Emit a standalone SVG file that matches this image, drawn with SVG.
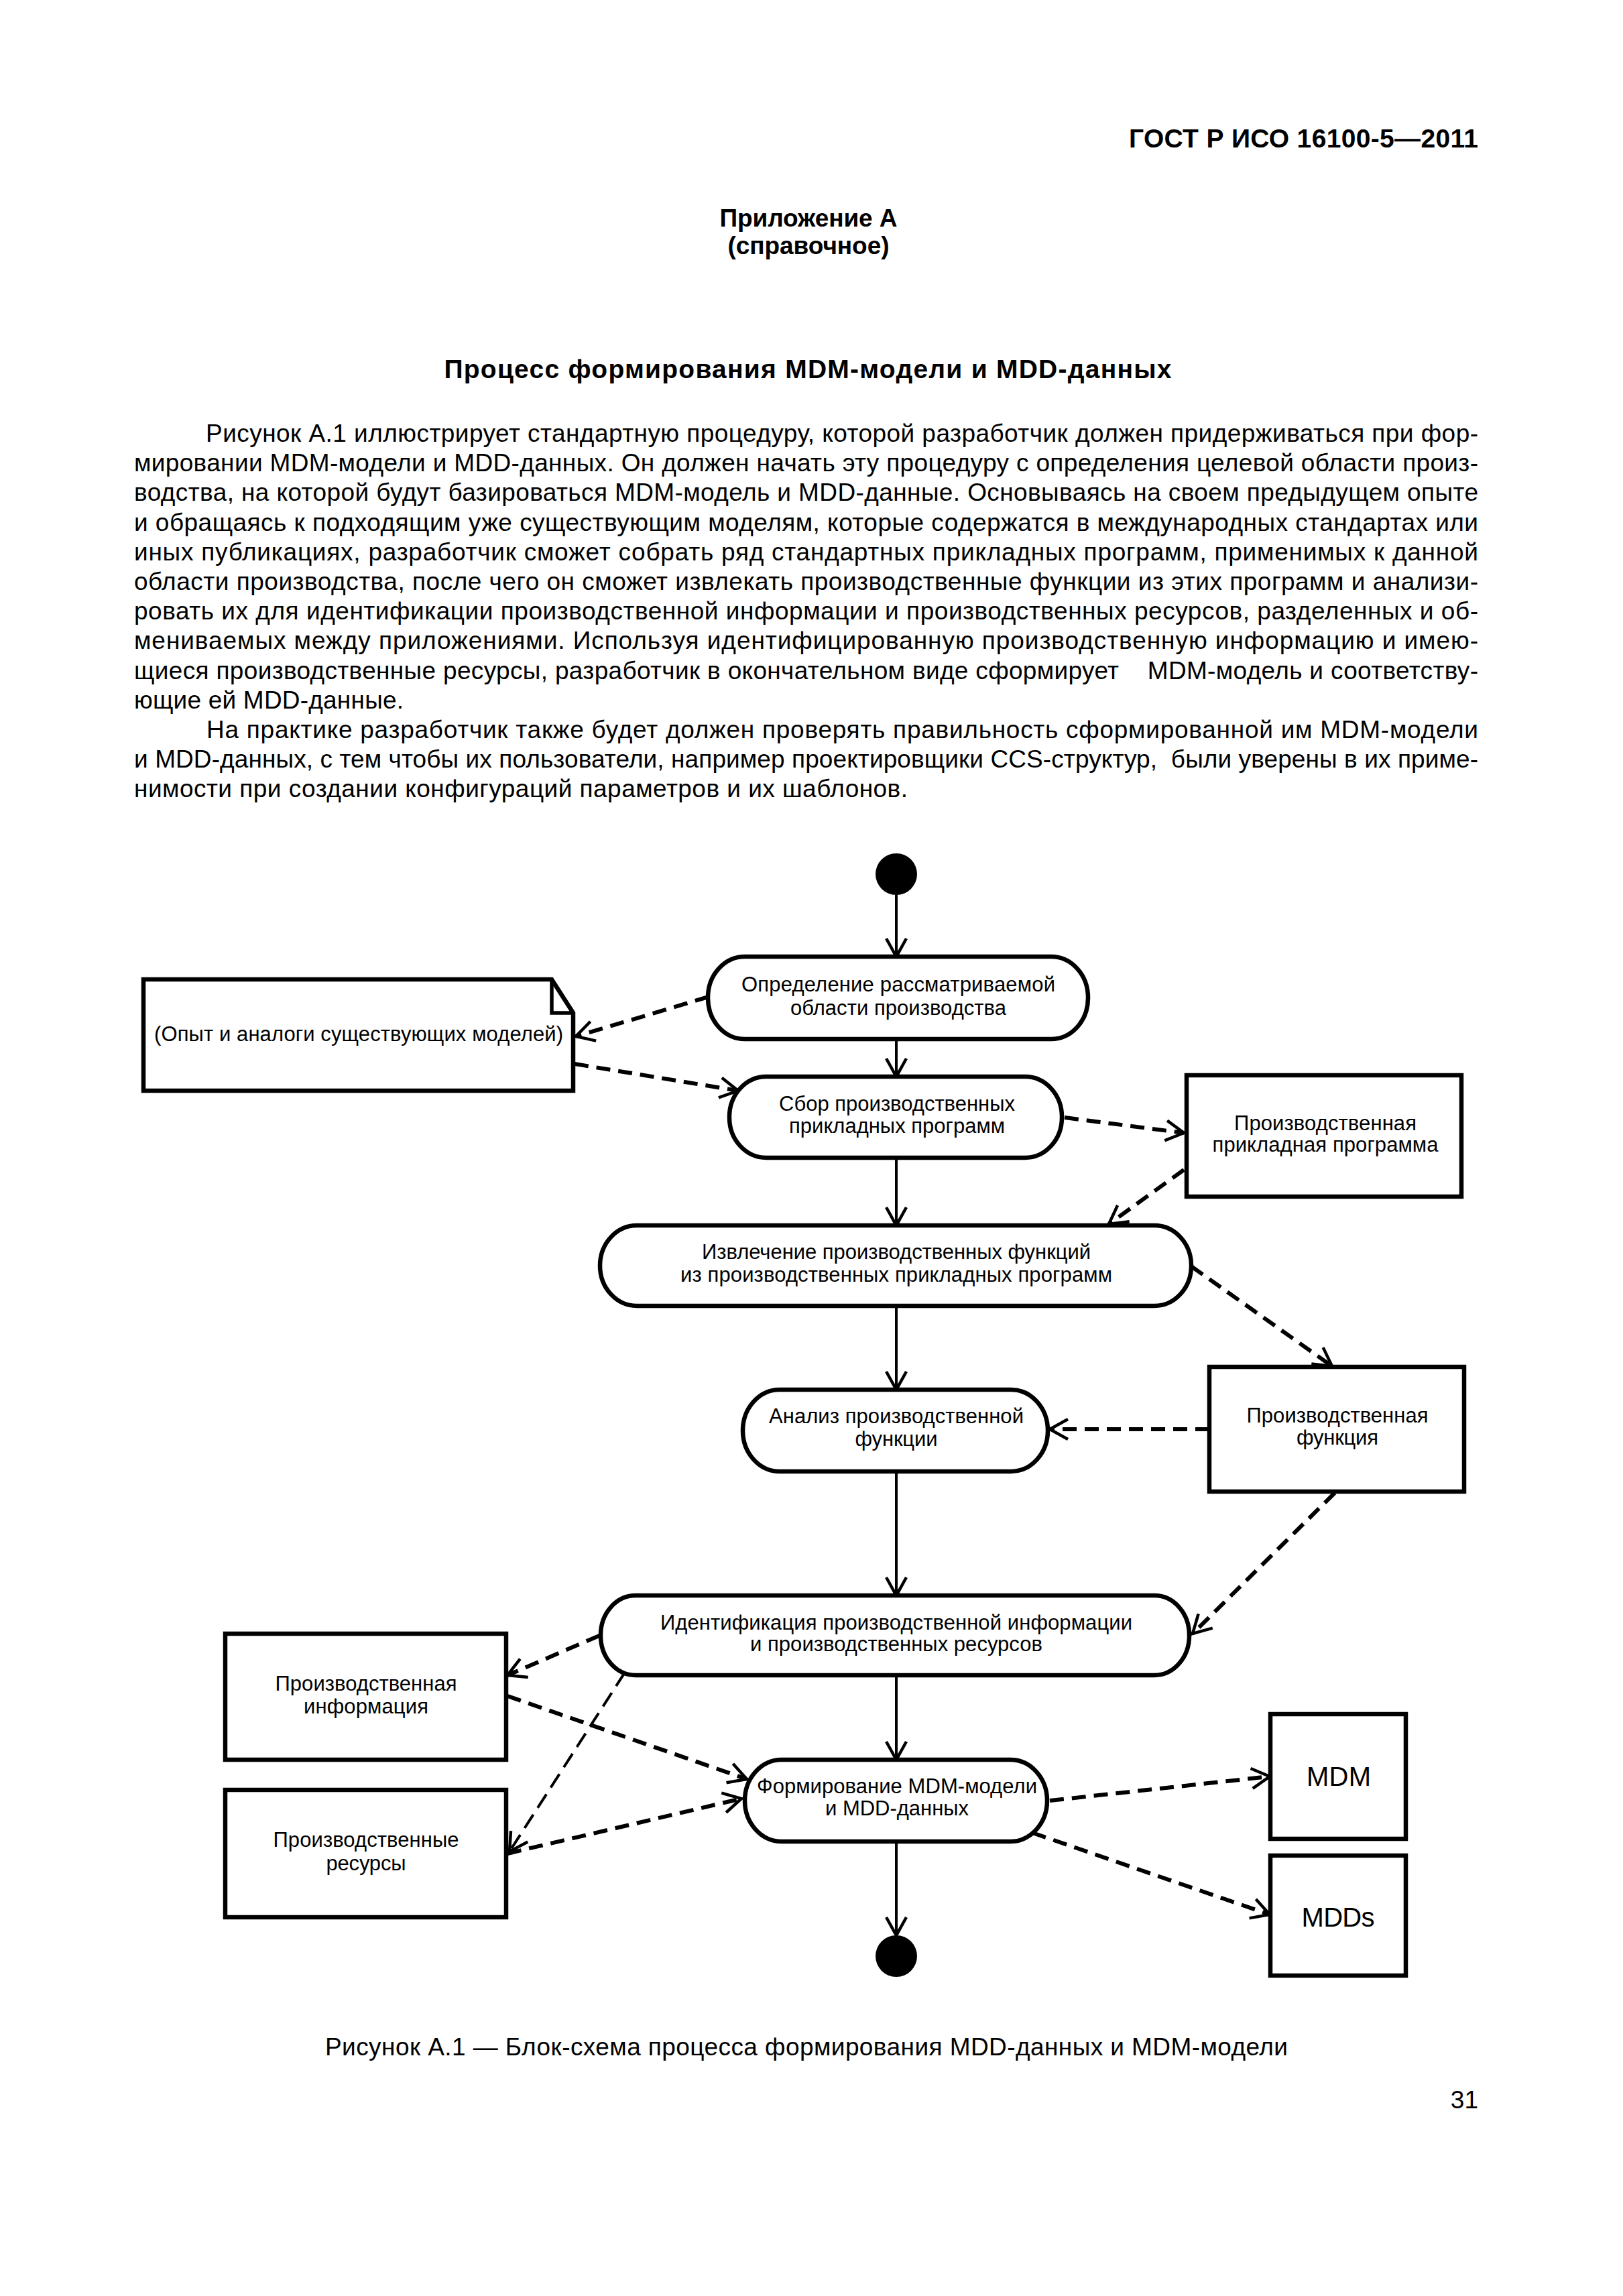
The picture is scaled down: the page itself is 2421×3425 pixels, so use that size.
<svg xmlns="http://www.w3.org/2000/svg" width="2421" height="3425" viewBox="0 0 2421 3425">
<style>
text{font-family:"Liberation Sans",Arial,sans-serif;fill:#000}
.p{font-size:37px}
.b{font-weight:bold}
.n{font-size:31px;text-anchor:middle}
.big{font-size:40px;text-anchor:middle}
.node{fill:#fff;stroke:#000;stroke-width:6.5}
.solid{fill:none;stroke:#000;stroke-width:4}
.dash{fill:none;stroke:#000;stroke-width:6;stroke-dasharray:21 12}
.dthin{fill:none;stroke:#000;stroke-width:4;stroke-dasharray:24 12}
</style>
<defs>
<marker id="arr" markerUnits="userSpaceOnUse" viewBox="-32 -20 36 40" refX="0" refY="0" markerWidth="36" markerHeight="40" orient="auto" overflow="visible">
<path d="M-27,-15 L0,0 L-27,15" fill="none" stroke="#000" stroke-width="4.5" stroke-dasharray="none"/>
</marker>
</defs>
<rect width="2421" height="3425" fill="#fff"/>

<g id="page-text">
<text class="b" x="2205" y="220" font-size="39" text-anchor="end" textLength="521">ГОСТ Р ИСО 16100-5—2011</text>
<text class="b" x="1206" y="338" font-size="37" text-anchor="middle" textLength="265">Приложение А</text>
<text class="b" x="1206" y="379" font-size="37" text-anchor="middle" textLength="241">(справочное)</text>
<text class="b" x="1205" y="564" font-size="39" text-anchor="middle" textLength="1085">Процесс формирования MDM-модели и MDD-данных</text>
<text class="p" x="307" y="659" textLength="1898">Рисунок А.1 иллюстрирует стандартную процедуру, которой разработчик должен придерживаться при фор-</text>
<text class="p" x="200" y="703" textLength="2005">мировании MDM-модели и MDD-данных. Он должен начать эту процедуру с определения целевой области произ-</text>
<text class="p" x="200" y="747" textLength="2005">водства, на которой будут базироваться MDM-модель и MDD-данные. Основываясь на своем предыдущем опыте</text>
<text class="p" x="200" y="792" textLength="2005">и обращаясь к подходящим уже существующим моделям, которые содержатся в международных стандартах или</text>
<text class="p" x="200" y="836" textLength="2005">иных публикациях, разработчик сможет собрать ряд стандартных прикладных программ, применимых к данной</text>
<text class="p" x="200" y="880" textLength="2005">области производства, после чего он сможет извлекать производственные функции из этих программ и анализи-</text>
<text class="p" x="200" y="924" textLength="2005">ровать их для идентификации производственной информации и производственных ресурсов, разделенных и об-</text>
<text class="p" x="200" y="968" textLength="2005">мениваемых между приложениями. Используя идентифицированную производственную информацию и имею-</text>
<text class="p" x="200" y="1013" textLength="2005" xml:space="preserve">щиеся производственные ресурсы, разработчик в окончательном виде сформирует    MDM-модель и соответству-</text>
<text class="p" x="200" y="1057" textLength="402">ющие ей MDD-данные.</text>
<text class="p" x="308" y="1101" textLength="1897">На практике разработчик также будет должен проверять правильность сформированной им MDM-модели</text>
<text class="p" x="200" y="1145" textLength="2005" xml:space="preserve">и MDD-данных, с тем чтобы их пользователи, например проектировщики CCS-структур,  были уверены в их приме-</text>
<text class="p" x="200" y="1189" textLength="1154">нимости при создании конфигураций параметров и их шаблонов.</text>
<text class="p" x="1203" y="3066" text-anchor="middle" textLength="1436">Рисунок А.1 — Блок-схема процесса формирования MDD-данных и MDM-модели</text>
<text class="p" x="2205" y="3145" text-anchor="end">31</text>
</g>

<g id="connectors">
<line class="solid" x1="1337" y1="1335" x2="1337" y2="1427" marker-end="url(#arr)"/>
<line class="solid" x1="1337" y1="1550" x2="1337" y2="1606" marker-end="url(#arr)"/>
<line class="solid" x1="1337" y1="1727" x2="1337" y2="1828" marker-end="url(#arr)"/>
<line class="solid" x1="1337" y1="1948" x2="1337" y2="2073" marker-end="url(#arr)"/>
<line class="solid" x1="1337" y1="2195" x2="1337" y2="2380" marker-end="url(#arr)"/>
<line class="solid" x1="1337" y1="2499" x2="1337" y2="2625" marker-end="url(#arr)"/>
<line class="solid" x1="1337" y1="2747" x2="1337" y2="2887" marker-end="url(#arr)"/>
<line class="dash" x1="1057" y1="1487" x2="859" y2="1546" marker-end="url(#arr)"/>
<line class="dash" x1="857" y1="1587" x2="1101" y2="1627" marker-end="url(#arr)"/>
<line class="dash" x1="1588" y1="1667" x2="1766" y2="1690" marker-end="url(#arr)"/>
<line class="dash" x1="1766" y1="1745" x2="1654" y2="1826" marker-end="url(#arr)"/>
<line class="dash" x1="1777" y1="1889" x2="1987" y2="2038" marker-end="url(#arr)"/>
<line class="dash" x1="1804" y1="2132" x2="1566" y2="2132" marker-end="url(#arr)"/>
<line class="dash" x1="1991" y1="2227" x2="1779" y2="2437" marker-end="url(#arr)"/>
<line class="dash" x1="894" y1="2440" x2="757" y2="2499" marker-end="url(#arr)"/>
<line class="dthin" x1="932" y1="2495" x2="760" y2="2762" marker-end="url(#arr)"/>
<line class="dash" x1="757" y1="2530" x2="1114" y2="2654" marker-end="url(#arr)"/>
<line class="dash" x1="757" y1="2765" x2="1106" y2="2683" marker-end="url(#arr)"/>
<line class="dash" x1="1566" y1="2686" x2="1894" y2="2650" marker-end="url(#arr)"/>
<line class="dash" x1="1540" y1="2734" x2="1894" y2="2856" marker-end="url(#arr)"/>
</g>

<g id="start"><circle cx="1337" cy="1304" r="31" fill="#000"/></g>
<g id="end"><circle cx="1337" cy="2918" r="31" fill="#000"/></g>

<g id="n-define">
<rect class="node" x="1056" y="1427" width="567" height="123" rx="55" ry="61"/>
<text class="n" x="1340" y="1479" textLength="468">Определение рассматриваемой</text>
<text class="n" x="1340" y="1514" textLength="322">области производства</text>
</g>
<g id="n-note">
<path class="node" d="M214,1461 H823 L855,1511 V1627 H214 Z"/>
<path d="M823,1461 V1511 H855" fill="none" stroke="#000" stroke-width="5.5"/>
<text class="n" x="535" y="1553" textLength="610">(Опыт и аналоги существующих моделей)</text>
</g>
<g id="n-collect">
<rect class="node" x="1088" y="1606" width="496" height="121" rx="55" ry="60"/>
<text class="n" x="1338" y="1657" textLength="352">Сбор производственных</text>
<text class="n" x="1338" y="1690" textLength="322">прикладных программ</text>
</g>
<g id="n-app">
<rect class="node" x="1770" y="1604" width="410" height="181"/>
<text class="n" x="1977" y="1686" textLength="272">Производственная</text>
<text class="n" x="1977" y="1718" textLength="337">прикладная программа</text>
</g>
<g id="n-extract">
<rect class="node" x="895" y="1828" width="882" height="120" rx="55" ry="60"/>
<text class="n" x="1337" y="1878" textLength="580">Извлечение производственных функций</text>
<text class="n" x="1337" y="1912" textLength="644">из производственных прикладных программ</text>
</g>
<g id="n-analyze">
<rect class="node" x="1108" y="2073" width="455" height="122" rx="55" ry="61"/>
<text class="n" x="1337" y="2123" textLength="380">Анализ производственной</text>
<text class="n" x="1337" y="2157" textLength="123">функции</text>
</g>
<g id="n-func">
<rect class="node" x="1804" y="2039" width="380" height="186"/>
<text class="n" x="1995" y="2122" textLength="271">Производственная</text>
<text class="n" x="1995" y="2155" textLength="122">функция</text>
</g>
<g id="n-identify">
<rect class="node" x="896" y="2380" width="878" height="119" rx="52" ry="59"/>
<text class="n" x="1337" y="2431" textLength="704">Идентификация производственной информации</text>
<text class="n" x="1337" y="2463" textLength="436">и производственных ресурсов</text>
</g>
<g id="n-info">
<rect class="node" x="336" y="2437" width="419" height="188"/>
<text class="n" x="546" y="2522" textLength="271">Производственная</text>
<text class="n" x="546" y="2556" textLength="186">информация</text>
</g>
<g id="n-res">
<rect class="node" x="336" y="2670" width="419" height="190"/>
<text class="n" x="546" y="2755" textLength="277">Производственные</text>
<text class="n" x="546" y="2790" textLength="119">ресурсы</text>
</g>
<g id="n-form">
<rect class="node" x="1111" y="2625" width="451" height="122" rx="55" ry="61"/>
<text class="n" x="1338" y="2675" textLength="418">Формирование MDM-модели</text>
<text class="n" x="1338" y="2708" textLength="214">и MDD-данных</text>
</g>
<g id="n-mdm">
<rect class="node" x="1895" y="2557" width="202" height="186"/>
<text class="big" x="1997" y="2664" textLength="96">MDM</text>
</g>
<g id="n-mdds">
<rect class="node" x="1895" y="2768" width="202" height="179"/>
<text class="big" x="1996" y="2874" textLength="109">MDDs</text>
</g>
</svg>
